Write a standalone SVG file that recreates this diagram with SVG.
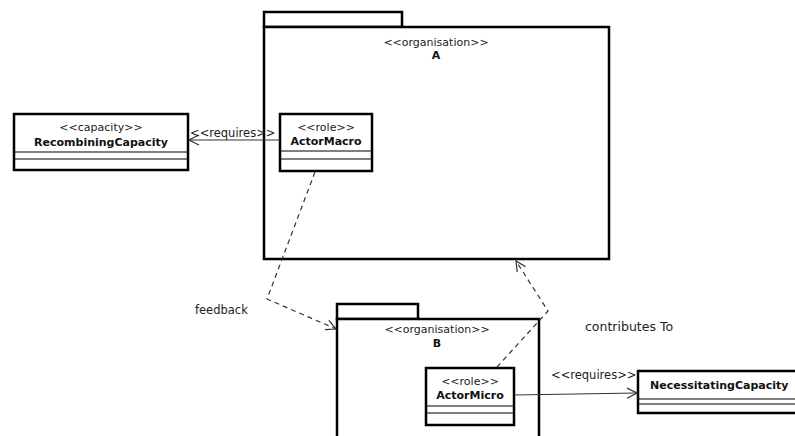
<svg xmlns="http://www.w3.org/2000/svg" width="795" height="436" viewBox="0 0 795 436">
<style>
.box{fill:#fff;stroke:#000;stroke-width:2.5}
.sep{stroke:#000;stroke-width:1.2;fill:none}
.st{font-family:"DejaVu Sans",Verdana,sans-serif;font-size:11px;fill:#222;text-anchor:middle}
.nm{font-family:"DejaVu Sans",Verdana,sans-serif;font-size:11px;font-weight:bold;fill:#111;text-anchor:middle}
.lb{font-family:"DejaVu Sans",Verdana,sans-serif;font-size:11.5px;fill:#222}
.dash{fill:none;stroke:#333;stroke-width:1.2;stroke-dasharray:5 4}
.solid{fill:none;stroke:#333;stroke-width:1}
</style>
<defs>
<marker id="open" markerWidth="12" markerHeight="12" refX="11" refY="6" orient="auto" markerUnits="userSpaceOnUse">
<path d="M1,1 L11,6 L1,11" fill="none" stroke="#333" stroke-width="1.2"/>
</marker>
</defs>
<rect width="795" height="436" fill="#fff"/>
<g id="packageA">
<rect class="box" x="264" y="12" width="138" height="15"/>
<rect class="box" x="264" y="27" width="345" height="232"/>
<text class="st" x="436" y="46">&lt;&lt;organisation&gt;&gt;</text>
<text class="nm" x="436" y="59">A</text>
</g>
<g id="packageB">
<rect class="box" x="337" y="304" width="81" height="15"/>
<path class="box" d="M337,440 L337,319 L539,319 L539,440"/>
<text class="st" x="437" y="333">&lt;&lt;organisation&gt;&gt;</text>
<text class="nm" x="437" y="347">B</text>
</g>
<g id="RecombiningCapacity">
<rect class="box" x="14" y="114" width="174" height="56"/>
<line class="sep" x1="14" y1="152" x2="188" y2="152"/>
<line class="sep" x1="14" y1="159" x2="188" y2="159"/>
<text class="st" x="101" y="131">&lt;&lt;capacity&gt;&gt;</text>
<text class="nm" x="101" y="146">RecombiningCapacity</text>
</g>
<g id="ActorMacro">
<rect class="box" x="280" y="114" width="92" height="57"/>
<line class="sep" x1="280" y1="151" x2="372" y2="151"/>
<line class="sep" x1="280" y1="159" x2="372" y2="159"/>
<text class="st" x="326" y="131">&lt;&lt;role&gt;&gt;</text>
<text class="nm" x="326" y="145">ActorMacro</text>
</g>
<g id="ActorMicro">
<rect class="box" x="426" y="368" width="88" height="57"/>
<line class="sep" x1="426" y1="406" x2="514" y2="406"/>
<line class="sep" x1="426" y1="413" x2="514" y2="413"/>
<text class="st" x="470" y="385">&lt;&lt;role&gt;&gt;</text>
<text class="nm" x="470" y="399">ActorMicro</text>
</g>
<g id="NecessitatingCapacity">
<path class="box" d="M800,371 L638,371 L638,413 L800,413"/>
<line class="sep" x1="638" y1="399" x2="800" y2="399"/>
<line class="sep" x1="638" y1="404" x2="800" y2="404"/>
<text class="nm" x="650" y="389" style="text-anchor:start">NecessitatingCapacity</text>
</g>
<g id="connectors">
<line class="solid" x1="280" y1="140" x2="189" y2="140" marker-end="url(#open)"/>
<text class="lb" x="190" y="137">&lt;&lt;requires&gt;&gt;</text>
<polyline class="dash" points="315,172 267,299 336,329" marker-end="url(#open)"/>
<text class="lb" x="195" y="314">feedback</text>
<polyline class="dash" points="497,367 548,311 516,261" marker-end="url(#open)"/>
<text class="lb" x="585" y="331" style="font-size:12.5px">contributes To</text>
<line class="solid" x1="514" y1="395" x2="637" y2="393" marker-end="url(#open)"/>
<text class="lb" x="551" y="379">&lt;&lt;requires&gt;&gt;</text>
</g>
</svg>
